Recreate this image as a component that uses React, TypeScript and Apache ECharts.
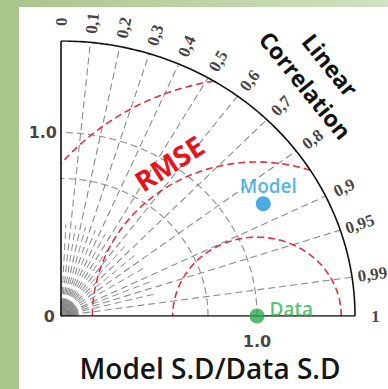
import React, { useEffect, useRef } from "react";
import * as echarts from "echarts";

// Correlation ticks along the outer arc
const corrTicks = [0, 0.1, 0.2, 0.3, 0.4, 0.5, 0.6, 0.7, 0.8, 0.9, 0.95, 0.99, 1];
const corrTickLabels = ["0", "0,1", "0,2", "0,3", "0,4", "0,5", "0,6", "0,7", "0,8", "0,9", "0,95", "0,99", "1"];
// Short radial guide lines between the labelled correlations
const minorCorr = [0.05, 0.15, 0.25, 0.35, 0.45, 0.55, 0.65, 0.75, 0.85, 0.925, 0.97];
// Standard-deviation ratio axis
const stdMax = 1.5;
const stdGridArcs = [0.75, 1.0];
const stdTickValues = [0, 1.0];
const stdTickLabels = ["0", "1.0"];
// Centred RMSE contours around the reference point
const refStd = 1.0;
const rmseArcs = [0.43, 0.84, 1.3];
// Points on the diagram
const pointNames = ["Data", "Model"];
const pointStd = [1.0, 1.2];
const pointCorr = [1.0, 0.86];
const pointColors = ["#2aa84a", "#1b96de"];
const pointLabelColors = ["#2db14f", "#23a0e2"];

const GRAY = "#8a8a8a";
const RED = "#e0323e";

const toXY = (std: number, corr: number): [number, number] => [
  std * corr,
  std * Math.sqrt(Math.max(0, 1 - corr * corr)),
];

const arcPoints = (r: number, cx: number, t0: number, t1: number, n = 160) => {
  const pts: [number, number][] = [];
  for (let i = 0; i <= n; i++) {
    const t = t0 + ((t1 - t0) * i) / n;
    pts.push([cx + r * Math.cos(t), r * Math.sin(t)]);
  }
  return pts;
};

const lineSeries = (data: any[], color: string, width: number, dashed: boolean, z = 2) => ({
  type: "line",
  data,
  showSymbol: false,
  symbol: "none",
  silent: true,
  z,
  lineStyle: { color, width, type: dashed ? [7, 4] : "solid" },
});

export default function App() {
  const ref = useRef<HTMLDivElement>(null);

  useEffect(() => {
    if (!ref.current) return;
    const chart = echarts.init(ref.current, undefined, { renderer: "svg" });
    const series: any[] = [];

    // tiny fan at the origin
    for (let a = 0; a <= 90; a += 3) {
      const t = (a * Math.PI) / 180;
      series.push(lineSeries([[0, 0], [0.09 * Math.cos(t), 0.09 * Math.sin(t)]], "#6f6f6f", 0.7, false));
    }
    // minor radial guides
    minorCorr.forEach((c) => {
      series.push(lineSeries([[0, 0], toXY(0.5, c)], GRAY, 1, true));
    });
    // major radial guides
    corrTicks.slice(1, -1).forEach((c) => {
      series.push(lineSeries([[0, 0], toXY(stdMax, c)], GRAY, 1.1, true));
    });
    // std-ratio arcs
    stdGridArcs.forEach((r) => {
      series.push(lineSeries(arcPoints(r, 0, 0, Math.PI / 2), GRAY, 1.1, true));
    });
    // RMSE contours, clipped to the quarter disc
    rmseArcs.forEach((r) => {
      let t0 = 0;
      let t1 = Math.PI;
      if (refStd + r > stdMax) {
        const x = (stdMax * stdMax - r * r + refStd * refStd) / (2 * refStd);
        const y = Math.sqrt(stdMax * stdMax - x * x);
        t0 = Math.atan2(y, x - refStd);
      }
      if (r > refStd) t1 = Math.acos(-refStd / r);
      series.push(lineSeries(arcPoints(r, refStd, t0, t1), RED, 1.6, true, 3));
    });
    // frame: axes and outer arc
    series.push(lineSeries([[0, 0], [stdMax, 0]], "#111", 1.6, false, 4));
    series.push(lineSeries([[0, 0], [0, stdMax]], "#111", 1.6, false, 4));
    series.push(lineSeries(arcPoints(stdMax, 0, 0, Math.PI / 2), "#111", 1.6, false, 4));

    const labelFont = {
      color: "#111",
      fontFamily: "DejaVu Sans",
      fontWeight: "bold" as const,
      fontSize: 16,
    };

    // correlation labels
    series.push({
      type: "scatter",
      symbolSize: 0,
      silent: true,
      clip: false,
      z: 5,
      labelLayout: { hideOverlap: false },
      data: corrTicks.map((c, i) => {
        const ang = (Math.acos(c) * 180) / Math.PI;
        return {
          value: toXY(1.605, c),
          label: {
            show: true,
            position: "inside",
            formatter: corrTickLabels[i],
            rotate: ang,
            color: "#111",
            fontFamily: "Liberation Serif",
            fontWeight: "bold",
            fontSize: 17,
          },
        };
      }),
    });
    // std-ratio labels on the vertical axis
    series.push({
      type: "scatter",
      symbolSize: 0,
      silent: true,
      clip: false,
      z: 5,
      data: stdTickValues.map((v, i) => ({
        value: [0, v],
        label: {
          show: true,
          position: "left",
          distance: v === 0 ? 6 : 4,
          formatter: stdTickLabels[i],
          ...labelFont,
        },
      })),
    });
    // std-ratio label on the horizontal axis
    series.push({
      type: "scatter",
      symbolSize: 0,
      silent: true,
      clip: false,
      z: 5,
      data: stdTickValues
        .map((v, i) => ({ v, i }))
        .filter((d) => d.v > 0)
        .map((d) => ({
          value: [d.v, 0],
          label: {
            show: true,
            position: "bottom",
            distance: 17,
            formatter: stdTickLabels[d.i],
            ...labelFont,
          },
        })),
    });
    // Data and Model points
    series.push({
      type: "scatter",
      symbolSize: 15,
      silent: true,
      clip: false,
      z: 6,
      data: pointNames.map((name, i) => ({
        value: toXY(pointStd[i], pointCorr[i]),
        itemStyle: { color: pointColors[i] },
        label: {
          show: true,
          formatter: name,
          position: i === 0 ? "right" : "top",
          distance: i === 0 ? 5 : 1,
          offset: i === 0 ? [0, -7] : [5, 0],
          color: pointLabelColors[i],
          fontFamily: "Open Sans",
          fontWeight: 600,
          fontSize: 19,
        },
      })),
    });

    chart.setOption({
      animation: false,
      backgroundColor: "#ffffff",
      grid: { left: 61, top: 41, width: 294, height: 275 },
      xAxis: { type: "value", min: 0, max: stdMax, show: false },
      yAxis: { type: "value", min: 0, max: stdMax, show: false },
      graphic: [
        { type: "rect", z: -10, shape: { x: 0, y: 0, width: 19, height: 389 }, style: { fill: "#a8c58a" } },
        {
          type: "rect",
          z: -10,
          shape: { x: 0, y: 0, width: 388, height: 7 },
          style: {
            fill: new echarts.graphic.LinearGradient(0, 0, 1, 0, [
              { offset: 0, color: "#a8c58a" },
              { offset: 1, color: "#d0e2bf" },
            ]),
          },
        },
        {
          type: "text",
          z: 10,
          x: 210,
          y: 368,
          style: {
            text: "Model S.D/Data S.D",
            fill: "#151515",
            font: '600 28px "Open Sans"',
            textAlign: "center",
            textVerticalAlign: "middle",
          },
        },
        {
          type: "text",
          z: 10,
          x: 318,
          y: 75,
          rotation: (-51 * Math.PI) / 180,
          style: {
            text: "Linear\nCorrelation",
            fill: "#111",
            font: 'bold 23px "Open Sans"',
            lineHeight: 32,
            textAlign: "center",
            textVerticalAlign: "middle",
          },
        },
        {
          type: "text",
          z: 10,
          x: 169,
          y: 163,
          rotation: (33 * Math.PI) / 180,
          style: {
            text: "RMSE",
            fill: "#e8141c",
            font: 'bold 28px "Open Sans"',
            textAlign: "center",
            textVerticalAlign: "middle",
          },
        },
      ],
      series,
    });
    return () => chart.dispose();
  }, []);

  return (
    <div
      ref={ref}
      style={{ position: "fixed", left: 0, top: 0, width: 388, height: 389 }}
    />
  );
}
